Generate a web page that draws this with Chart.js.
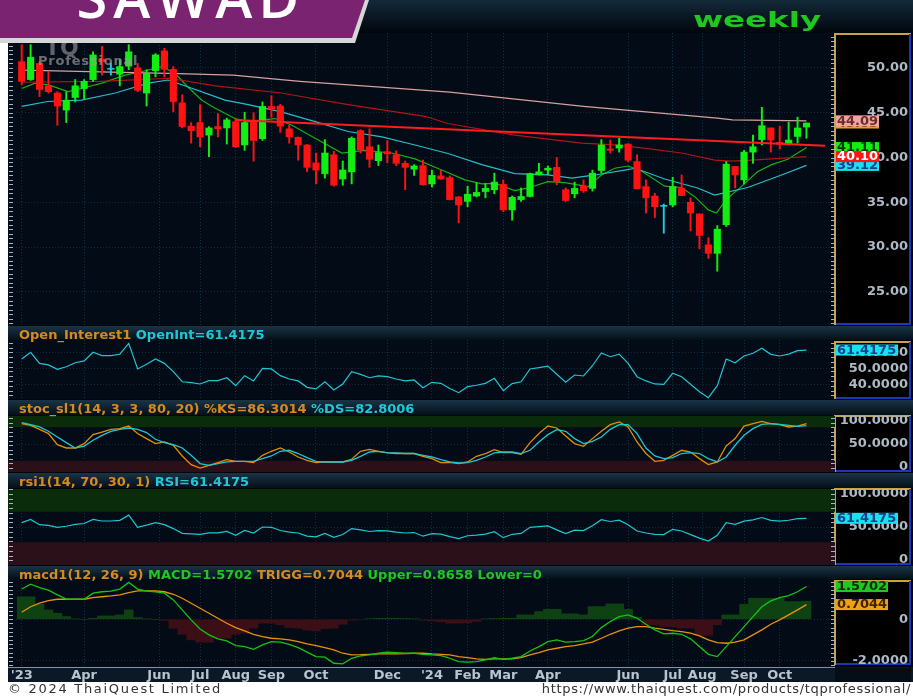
<!DOCTYPE html>
<html><head><meta charset="utf-8">
<script src="https://cdn.jsdelivr.net/npm/chart.js@4.4.1/dist/chart.umd.min.js"></script>
<style>
html,body{margin:0;padding:0;background:#fff;}
#root{position:relative;width:913px;height:698px;overflow:hidden;background:#fff;}
.layer{position:absolute;left:0;top:0;}
canvas{position:absolute;left:0;}
</style></head><body>
<div id="root">
<svg class="layer" width="913" height="698" style="z-index:0">
 <defs>
  <linearGradient id="gTop" x1="0" y1="0" x2="0" y2="1"><stop offset="0" stop-color="#14293a"/><stop offset="1" stop-color="#01060c"/></linearGradient>
  <linearGradient id="gHdr" x1="0" y1="0" x2="0" y2="1"><stop offset="0" stop-color="#1a3446"/><stop offset="1" stop-color="#040f18"/></linearGradient>
 </defs>
 <rect x="0" y="0" width="913" height="698" fill="#ffffff"/>
 <rect x="0" y="0" width="913" height="33" fill="url(#gTop)"/>
 <rect x="8" y="33" width="905" height="649" fill="#00050a"/>
 <rect x="8" y="33" width="827" height="292" fill="#020b16"/>
 <rect x="8" y="326" width="905" height="14" fill="url(#gHdr)"/>
 <rect x="8" y="340" width="827" height="59" fill="#020b16"/>
 <rect x="8" y="400" width="905" height="15" fill="url(#gHdr)"/>
 <rect x="8" y="415.5" width="827" height="56.5" fill="#020b16"/>
 <rect x="8" y="473" width="905" height="15" fill="url(#gHdr)"/>
 <rect x="8" y="488.5" width="827" height="76.5" fill="#020b16"/>
 <rect x="8" y="566" width="905" height="13" fill="url(#gHdr)"/>
 <rect x="8" y="579" width="827" height="88" fill="#020b16"/>
 <rect x="8" y="667" width="905" height="15" fill="#0b1826"/>
 <rect x="8" y="667" width="827" height="1" fill="#8092a4"/>
 <g fill="#00040a" stroke-width="2">
  <rect x="835" y="33" width="76" height="292"/>
  <rect x="835" y="341" width="76" height="58"/>
  <rect x="835" y="415" width="76" height="57"/>
  <rect x="835" y="488" width="76" height="77"/>
  <rect x="835" y="580" width="76" height="85"/>
  <rect x="835" y="668" width="76" height="14" fill="#050d16"/>
 </g>
 <g stroke="#c9a246" stroke-width="2">
  <path d="M835 325V34H911 M835 399V342H911 M835 472V416H911 M835 565V489H911 M835 665V581H911"/>
 </g>
 <g stroke="#1a38b8" stroke-width="2">
  <path d="M910 34V324H836 M910 342V398H836 M910 416V471H836 M910 489V564H836 M910 581V664H836"/>
 </g>
</svg>
<canvas id="cMain" width="913" height="292" style="top:33px;z-index:1"></canvas>
<canvas id="cOI" width="913" height="59" style="top:340px;z-index:1"></canvas>
<canvas id="cSto" width="913" height="56" style="top:416px;z-index:1"></canvas>
<canvas id="cRsi" width="913" height="76" style="top:489px;z-index:1"></canvas>
<canvas id="cMacd" width="913" height="104" style="top:578px;z-index:1"></canvas>
<svg class="layer" width="913" height="698" style="z-index:2" font-family="DejaVu Sans, sans-serif">
 <g opacity="0.7">
  <text x="45" y="55" font-size="22" font-weight="bold" fill="#8a8a8a">TQ</text>
  <text x="38" y="65" font-size="13" font-weight="bold" letter-spacing="0.8" fill="#9a9a9a">Professional</text>
 </g>
 <polygon points="0,0 369,0 355,43 0,43" fill="#d6d6d6"/>
 <polygon points="0,0 365,0 352,38 0,38" fill="#7a2371"/>
 <text x="191" y="18" text-anchor="middle" font-family="Open Sans" font-weight="600" font-size="56" letter-spacing="6" fill="#ffffff">SAWAD</text>
 <text transform="translate(757,27) scale(1.55,1)" text-anchor="middle" font-weight="bold" font-size="21" fill="#1ec81e">weekly</text>
 <g font-size="13" font-weight="bold" dominant-baseline="central">
  <text x="19" y="334"><tspan fill="#d88a1e">Open_Interest1 </tspan><tspan fill="#1ec8d6">OpenInt=61.4175</tspan></text>
  <text x="19" y="407.5"><tspan fill="#d88a1e">stoc_sl1(14, 3, 3, 80, 20) %KS=86.3014 </tspan><tspan fill="#1ec8d6">%DS=82.8006</tspan></text>
  <text x="19" y="481"><tspan fill="#d88a1e">rsi1(14, 70, 30, 1) </tspan><tspan fill="#1ec8d6">RSI=61.4175</tspan></text>
  <text x="19" y="573.5"><tspan fill="#d88a1e">macd1(12, 26, 9) </tspan><tspan fill="#1ec81e">MACD=1.5702 </tspan><tspan fill="#d88a1e">TRIGG=0.7044 </tspan><tspan fill="#1ec81e">Upper=0.8658 Lower=0</tspan></text>
 </g>
 <text x="8" y="688" dominant-baseline="central" font-size="13" letter-spacing="1.7" fill="#333">© 2024 ThaiQuest Limited</text>
 <text x="911" y="688" text-anchor="end" dominant-baseline="central" font-size="13" letter-spacing="0.65" fill="#333">https://www.thaiquest.com/products/tqprofessional/</text>
</svg>
</div>
<script>
// ================= DATA =================
const open  = [50.7,48.7,50.5,48.0,47.2,45.3,46.7,47.7,48.7,51.0, 49.9,49.3,50.2,50.0,47.2,49.7,51.9,49.85,46.1,43.5, 43.9,42.5,43.45,43.3,44.0,41.4,44.0,42.1,45.7,45.75, 43.2,42.25,41.4,39.4,38.2,40.3,37.6,38.4,43.0,41.2, 39.65,40.65,40.3,39.35,38.7,39.1,37.05,37.95,37.75,35.6, 35.1,35.7,36.2,36.4,37.0,34.15,35.3,35.65,38.05,38.6, 38.9,36.4,35.95,36.8,36.55,38.55,40.95,41.05,41.5,39.55, 36.75,35.7,34.6,34.7,36.55,35.0,33.7,30.25,29.3,32.5, 39.0,37.5,40.6,42.0,43.3,41.7,41.5,42.35,43.4];
const high  = [52.6,52.6,50.7,49.6,47.35,47.35,48.7,48.7,51.8,52.4, 50.55,50.9,52.6,50.5,49.8,51.6,52.2,50.15,47.0,43.9, 45.9,43.45,44.9,44.4,44.3,45.05,45.0,46.2,46.9,45.95, 43.6,42.3,41.45,40.5,42.0,40.7,39.6,42.3,43.1,43.2, 41.4,41.9,40.75,39.6,39.2,39.7,38.6,38.6,37.95,35.65, 36.8,37.2,37.1,38.25,37.5,35.7,36.6,38.25,39.35,39.05, 40.0,36.6,37.25,37.5,38.6,42.0,41.95,42.15,41.55,40.3, 37.5,36.0,34.8,37.8,38.05,35.5,33.7,31.05,32.4,39.55, 39.0,40.8,42.5,45.6,43.3,43.5,43.95,44.5,43.85];
const low   = [48.1,48.6,46.8,47.2,43.6,43.9,46.2,46.5,48.5,49.2, 49.2,48.0,49.8,47.35,45.75,49.0,49.0,45.1,43.3,41.6, 41.2,40.1,42.3,41.5,41.1,40.8,39.6,41.9,44.5,42.8, 41.6,39.7,38.4,37.05,37.7,36.8,36.9,37.05,40.5,38.9, 39.1,39.4,39.1,36.4,38.0,36.9,36.7,37.55,35.25,32.7, 34.5,35.6,35.5,35.95,33.95,33.0,35.1,35.6,38.05,38.05, 36.95,35.1,35.5,36.1,36.25,38.25,40.5,40.6,39.55,36.5, 33.8,33.3,31.55,34.5,35.75,31.8,29.8,28.75,27.3,32.3, 36.6,37.05,39.35,41.4,40.6,40.95,41.4,41.6,42.15];
const close = [48.5,51.2,47.6,47.35,45.75,46.4,48.0,48.5,51.45,50.7, 49.9,50.15,51.8,47.5,49.4,51.45,49.85,46.25,43.45,43.0, 42.3,43.3,43.2,44.2,41.2,43.9,41.9,45.7,45.4,43.5, 42.3,41.4,38.9,38.6,40.5,36.9,38.6,42.15,40.85,39.8, 40.55,40.4,39.35,38.9,39.05,36.95,38.0,37.6,35.3,34.7, 35.9,36.1,36.55,37.25,34.15,35.55,35.65,38.2,38.4,38.8, 37.3,35.2,36.55,36.3,38.25,41.4,40.8,41.4,39.7,36.5, 35.5,34.5,34.6,36.75,35.75,33.8,31.3,29.3,32.0,39.25, 38.05,40.6,41.2,43.55,41.95,41.5,41.95,43.3,43.85];

// moving averages: [week index, value]
const maPink  = [[0,49.75],[16.4,49.4],[23.7,49.2],[31.2,48.5],[48,47.3],[63,45.7],[78,44.4],[79.7,44.2],[88,44.09]];
const maRed   = [[0,48.4],[8.8,48.5],[16.6,48.85],[21.7,48.0],[29.1,47.2],[36.6,45.9],[45.2,44.6],[47.8,43.8],[55.3,42.5],[62.8,41.6],[66.5,41.4],[70.2,41.0],[74,40.5],[77.7,39.7],[79.6,39.6],[83.3,39.8],[88,40.10]];
const maCyan  = [[0,45.7],[2.9,46.25],[6.7,46.4],[10.5,47.2],[14.2,48.3],[16.4,48.65],[18.6,47.9],[21.7,46.8],[22.8,46.4],[25.4,45.9],[29.1,45.1],[32.9,44.0],[36.6,42.9],[40.4,42.3],[44.1,41.4],[47.8,40.45],[51.6,39.2],[55.3,38.2],[59,38.05],[61.7,37.7],[64.3,38.05],[67.6,38.6],[68.8,38.8],[72.1,37.6],[75.8,36.6],[77.7,35.8],[81.4,36.65],[85.2,38.05],[88,39.12]];
const maGreen = [[0,47.7],[1.5,48.3],[3,48.1],[5.2,47.35],[6.7,47.7],[9,48.3],[11.6,49.2],[13.5,49.6],[15.7,50.15],[17.2,49.4],[18.6,47.9],[20.2,46.4],[21.7,45.5],[23.9,44.35],[25.4,44.0],[28.4,44.35],[30.3,43.6],[32.9,42.15],[35.9,40.5],[38.5,40.8],[41.5,40.5],[44.1,39.85],[47.1,38.6],[49.7,37.5],[51.6,37.05],[53.1,37.1],[55.3,36.3],[56.8,36.6],[59,37.3],[60.9,37.2],[63.5,36.75],[65,38.05],[66.5,38.8],[68,39.05],[69.5,38.5],[72.1,36.8],[74,36.65],[75.5,35.6],[77,34.15],[77.9,33.8],[79,35.3],[80.7,36.75],[82.5,38.4],[84.1,39.2],[85.9,39.8],[88,41.11]];
const trendLine = [[23.9,44.2],[90.1,41.3]];

const rsi = [55.8,60,53.1,52.1,49.4,51.0,53.5,54.6,60,57.9, 57.9,58.8,65.6,49.6,52.5,55.8,53.1,47.9,41.6,41.0, 40.2,42.3,42.3,44.1,39.1,45.4,42.1,50.0,49.6,45.4, 43.3,42.1,38.1,37.1,41.6,36.4,40.2,47.9,46.2,44.1, 45.2,44.8,43.3,42.1,42.7,37.9,41.25,40.6,37.4,34.75, 38.5,39.4,40.6,43.75,36.0,40.4,41.6,49.6,50.4,51.4, 46.25,41.25,45.8,45.2,51.6,59.6,57.25,58.9,53.1,44.75, 42.1,40.2,40.0,46.9,44.75,40.0,35.4,31.6,39.1,55.8, 53.5,57.7,59.4,62.5,58.75,57.7,58.9,61.0,61.4175];
const stochK = [86.4,83.4,76.2,68.6,48.9,42.9,42.9,50.7,66.7,71.4, 76.2,77.4,82.1,68.6,59.6,50.7,53.6,47.7,28.6,13.2, 7.1,12.0,16.7,22.1,19.1,19.1,16.7,29.8,37.0,42.9, 35.7,26.8,20.9,16.7,17.9,17.9,17.9,22.7,37.0,40.5, 37.0,34.0,33.0,33.0,33.0,28.0,23.9,16.7,17.0,15.0, 17.9,28.0,32.8,40.0,34.6,34.6,31.6,52.5,68.6,82.1, 78.6,64.3,50.7,45.9,59.6,72.7,84.6,89.3,80.4,53.6, 33.0,19.1,20.9,29.8,38.8,35.7,23.9,13.2,17.9,46.4, 59.6,82.1,86.4,90.5,86.4,84.6,80.4,82.1,86.3014];
const stochD = [88.2,84.5,80.4,72.7,62.5,52.5,42.9,46.4,56.6,65.5, 72.7,76.2,78.6,76.2,70.4,58.4,52.5,48.9,42.9,29.8, 15.0,12.0,15.0,17.9,19.1,19.1,19.1,23.9,28.6,37.0, 38.8,33.0,25.6,19.1,17.9,17.9,17.9,20.9,28.0,35.7, 37.0,34.6,34.0,33.0,33.0,29.8,26.8,22.1,17.9,16.1, 16.7,20.9,26.8,34.0,35.7,35.7,33.0,38.8,53.6,66.7, 75.6,72.7,59.6,50.7,54.8,62.5,76.2,84.6,84.6,68.6, 42.9,28.6,23.9,25.6,33.0,34.6,33.0,23.9,17.9,26.8, 47.7,65.5,77.4,85.0,86.4,85.0,83.4,81.6,82.8006];
const macd = [1.45,1.68,1.52,1.40,1.17,0.97,0.96,0.96,1.25,1.32, 1.35,1.45,1.77,1.45,1.35,1.32,1.25,0.93,0.45,-0.03, -0.47,-0.75,-0.94,-1.04,-1.26,-1.31,-1.44,-1.23,-1.07,-1.10, -1.20,-1.36,-1.58,-1.79,-1.82,-2.11,-2.14,-1.87,-1.76,-1.71, -1.63,-1.58,-1.60,-1.63,-1.63,-1.68,-1.71,-1.74,-1.87,-2.03, -2.06,-2.03,-1.95,-1.84,-1.92,-1.87,-1.79,-1.52,-1.31,-1.07, -0.99,-1.10,-1.07,-1.02,-0.83,-0.40,-0.11,0.13,0.21,0.05, -0.24,-0.51,-0.70,-0.67,-0.72,-0.94,-1.31,-1.68,-1.79,-1.31, -0.83,-0.35,0.13,0.60,0.88,1.04,1.13,1.32,1.5702];
const trigg = [0.34,0.60,0.77,0.89,0.96,0.96,0.96,0.96,1.04,1.08, 1.12,1.17,1.28,1.36,1.36,1.36,1.32,1.20,1.01,0.77, 0.53,0.29,0.05,-0.19,-0.40,-0.56,-0.72,-0.83,-0.91,-0.94, -0.99,-1.07,-1.18,-1.26,-1.36,-1.47,-1.63,-1.71,-1.70,-1.68, -1.66,-1.66,-1.66,-1.65,-1.63,-1.63,-1.66,-1.68,-1.71,-1.79, -1.84,-1.90,-1.92,-1.90,-1.90,-1.90,-1.84,-1.71,-1.60,-1.47, -1.39,-1.31,-1.26,-1.18,-1.10,-0.91,-0.72,-0.56,-0.43,-0.35, -0.35,-0.43,-0.48,-0.54,-0.59,-0.67,-0.80,-0.99,-1.12,-1.15, -1.10,-0.99,-0.75,-0.51,-0.24,-0.03,0.21,0.45,0.7044];
const hist = [1.08,1.08,0.72,0.45,0.29,0.13,0.02,0.0,0.05,0.16, 0.16,0.21,0.45,0.08,0.02,0.0,-0.05,-0.43,-0.72,-0.99, -1.10,-1.10,-0.91,-0.91,-0.72,-0.67,-0.43,-0.19,-0.19,-0.27, -0.40,-0.43,-0.52,-0.56,-0.45,-0.43,-0.24,-0.05,-0.03,0.03, 0.05,0.05,0.05,0.04,0.02,-0.05,-0.08,-0.12,-0.19,-0.19, -0.17,-0.10,0.02,0.04,0.05,0.05,0.21,0.21,0.37,0.48, 0.48,0.26,0.26,0.21,0.61,0.61,0.74,0.74,0.48,0.10, -0.27,-0.27,-0.35,-0.35,-0.43,-0.43,-0.77,-0.77,-0.27,0.21, 0.21,0.72,1.01,1.01,1.01,1.01,0.85,0.85,0.87];

const monthIdx = [0,7,15.4,20,24,28,33,41,46,50,54,59,68,73,76.3,81,85];
const monthLbl = ["'23","Apr","Jun","Jul","Aug","Sep","Oct","Dec","'24","Feb","Mar","Apr","Jun","Jul","Aug","Sep","Oct"];
const priceTicks = [25,30,35,40,45,50];
const oiTicks = [40,50,60];
const oscTicks = [0,50,100];
const macdTicks = [-2,0];
const stochBands = [[80,100,'#0a2c0b'],[0,20,'#2b1019']];
const rsiBands = [[70,100,'#0a2c0b'],[0,30,'#2b1019']];

// ================= STYLE / HELPERS =================
const FONT = 'DejaVu Sans';
Chart.defaults.font.family = FONT;
const UP = '#12ee12', DOWN = '#ff1212', DOJI = '#22c8d8';
const X_MIN = -0.64, X_MAX = 91.2;
const idx = close.map((_, i) => i);
const candleColor = idx.map(i => close[i] > open[i] ? UP : (close[i] < open[i] ? DOWN : DOJI));
const pts = arr => arr.map(p => ({x: p[0], y: p[1]}));
const series = arr => arr.map((v, i) => ({x: i, y: v}));

function xAxis(show) {
  return {
    type: 'linear', min: X_MIN, max: X_MAX, offset: false,
    afterBuildTicks: s => { s.ticks = monthIdx.map(v => ({value: v})); },
    afterFit: s => { s.height = show ? 15 : 0; },
    grid: {display: true, color: '#12314a', lineWidth: 1, drawTicks: false, offset: false},
    border: {display: false, dash: [1, 2]},
    ticks: {display: show, autoSkip: false, maxRotation: 0, minRotation: 0, padding: 1, color: '#b8c4cf',
      font: {family: FONT, weight: 'bold', size: 13},
      callback: v => { const k = monthIdx.indexOf(v); return k < 0 ? '' : monthLbl[k]; }}
  };
}
function yAxis(min, max, ticks) {
  return {
    position: 'right', min, max, beginAtZero: false,
    afterBuildTicks: s => { s.ticks = ticks.map(v => ({value: v})); },
    afterFit: s => { s.width = 78; },
    ticks: {display: false},
    grid: {color: '#0f2a3e', lineWidth: 1, drawTicks: false},
    border: {display: false, dash: [1, 2]}
  };
}
function bandPlugin(bands) {
  return {id: 'bands', beforeDatasetsDraw(chart) {
    const ys = chart.scales.y, ca = chart.chartArea, ctx = chart.ctx;
    ctx.save();
    bands.forEach(b => {
      const y1 = ys.getPixelForValue(b[1]), y0 = ys.getPixelForValue(b[0]);
      ctx.fillStyle = b[2]; ctx.fillRect(ca.left - 8, y1, ca.right - ca.left + 8, y0 - y1);
    });
    ctx.restore();
  }};
}
function axisPlugin(ticks, fmt, minorStep, boxes) {
  return {id: 'rightAxis', afterDraw(chart) {
    const ys = chart.scales.y, ca = chart.chartArea, ctx = chart.ctx;
    ctx.save();
    ctx.strokeStyle = '#a9b4c0'; ctx.lineWidth = 1; ctx.beginPath();
    for (let v = Math.ceil(ys.min / minorStep) * minorStep; v <= ys.max; v += minorStep) {
      const y = Math.round(ys.getPixelForValue(v)) + 0.5;
      ctx.moveTo(ca.right - 4, y); ctx.lineTo(ca.right, y);
      ctx.moveTo(9, y); ctx.lineTo(13, y);
    }
    ctx.stroke();
    ctx.font = 'bold 13px "' + FONT + '"'; ctx.textBaseline = 'middle';
    ctx.textAlign = 'right'; ctx.fillStyle = '#aeb9c6';
    ticks.forEach(v => {
      let y = ys.getPixelForValue(v);
      y = Math.max(ca.top + 5, Math.min(ca.bottom - 5, y));
      ctx.fillText(fmt(v), 908, y);
    });
    ctx.textAlign = 'left';
    boxes.forEach(b => {
      const y = ys.getPixelForValue(b.v);
      ctx.fillStyle = b.bg; ctx.fillRect(ca.right + 1, y - 5.5, b.w, 11);
      ctx.fillStyle = b.fg; ctx.fillText(b.t, ca.right + 2, y + 0.5);
    });
    ctx.restore();
  }};
}
function baseOptions(xShow, yCfg) {
  return {
    responsive: false, animation: false, events: [], devicePixelRatio: 1,
    layout: {padding: {left: 16, right: 0, top: 0, bottom: 0}, autoPadding: false},
    plugins: {legend: {display: false}, tooltip: {enabled: false}},
    scales: {x: xAxis(xShow), y: yCfg}
  };
}
const lineDs = (data, color, width, order) => ({type: 'line', data, borderColor: color, borderWidth: width,
  pointRadius: 0, fill: false, tension: 0, order});
const last = a => a[a.length - 1];
const lastPt = a => a[a.length - 1][1];

// ================= MAIN PRICE PANEL =================
new Chart(document.getElementById('cMain'), {
  type: 'bar',
  data: {datasets: [
    lineDs(pts(trendLine), '#ff1d1d', 2, 0),
    {type: 'bar', data: idx.map(i => ({x: i, y: [open[i], close[i]]})), backgroundColor: candleColor,
      grouped: false, maxBarThickness: 6.5, barPercentage: 1, categoryPercentage: 1, order: 1},
    {type: 'line', showLine: false, data: idx.filter(i => open[i] === close[i]).map(i => ({x: i, y: close[i]})),
      pointStyle: 'line', pointRadius: 3.5, borderColor: DOJI, borderWidth: 1.5, order: 1},
    {type: 'bar', data: idx.map(i => ({x: i, y: [low[i], high[i]]})), backgroundColor: candleColor,
      grouped: false, maxBarThickness: 1.3, barPercentage: 1, categoryPercentage: 1, order: 2},
    lineDs(pts(maPink), '#d7a0a0', 1.2, 3),
    lineDs(pts(maRed), '#b31414', 1.2, 3),
    lineDs(pts(maCyan), '#22bfcc', 1.2, 3),
    lineDs(pts(maGreen), '#16b016', 1.2, 3)
  ]},
  options: baseOptions(false, yAxis(21.3, 53.9, priceTicks)),
  plugins: [axisPlugin(priceTicks, v => v.toFixed(2), 0.5, [
    {v: last(close), t: last(close).toFixed(2), bg: '#f0a020', fg: '#3a2200', w: 43},
    {v: lastPt(maPink), t: lastPt(maPink).toFixed(2), bg: '#f4a3a3', fg: '#6a2c2c', w: 43},
    {v: lastPt(maCyan), t: lastPt(maCyan).toFixed(2), bg: '#14e4f0', fg: '#1a3c8c', w: 43},
    {v: lastPt(maGreen), t: lastPt(maGreen).toFixed(2), bg: '#14ee14', fg: '#083808', w: 43},
    {v: lastPt(maRed), t: lastPt(maRed).toFixed(2), bg: '#ff1414', fg: '#ffffff', w: 43}
  ])]
});

// ================= OPEN INTEREST PANEL =================
new Chart(document.getElementById('cOI'), {
  type: 'line',
  data: {datasets: [lineDs(series(rsi), '#1ec6d2', 1.2, 0)]},
  options: baseOptions(false, yAxis(30.8, 67.7, oiTicks)),
  plugins: [axisPlugin(oiTicks, v => v.toFixed(4), 3, [
    {v: last(rsi), t: last(rsi).toFixed(4), bg: '#14e4f0', fg: '#1a3c8c', w: 62}
  ])]
});

// ================= STOCHASTIC PANEL =================
new Chart(document.getElementById('cSto'), {
  type: 'line',
  data: {datasets: [
    lineDs(series(stochK), '#e58c06', 1.3, 1),
    lineDs(series(stochD), '#1ec6d2', 1.3, 0)
  ]},
  options: baseOptions(false, yAxis(0, 100, oscTicks)),
  plugins: [bandPlugin(stochBands), axisPlugin(oscTicks, v => v === 0 ? '0' : v.toFixed(4), 8, [])]
});

// ================= RSI PANEL =================
new Chart(document.getElementById('cRsi'), {
  type: 'line',
  data: {datasets: [lineDs(series(rsi), '#1ec6d2', 1.2, 0)]},
  options: baseOptions(false, yAxis(0, 100, oscTicks)),
  plugins: [bandPlugin(rsiBands), axisPlugin(oscTicks, v => v === 0 ? '0' : v.toFixed(4), 6.25, [
    {v: last(rsi), t: last(rsi).toFixed(4), bg: '#14e4f0', fg: '#1a3c8c', w: 62}
  ])]
});

// ================= MACD PANEL =================
new Chart(document.getElementById('cMacd'), {
  type: 'bar',
  data: {datasets: [
    lineDs(series(macd), '#14c414', 1.3, 0),
    lineDs(series(trigg), '#e8920c', 1.3, 1),
    {type: 'bar', data: series(hist), backgroundColor: hist.map(v => v >= 0 ? '#0e4212' : '#3c0f17'),
      grouped: false, barPercentage: 1, categoryPercentage: 1, order: 2}
  ]},
  options: baseOptions(true, yAxis(-2.29, 1.98, macdTicks)),
  plugins: [axisPlugin(macdTicks, v => v === 0 ? '0' : v.toFixed(4), 0.2, [
    {v: last(macd), t: last(macd).toFixed(4), bg: '#1ec81e', fg: '#0a2a0a', w: 52},
    {v: last(trigg), t: last(trigg).toFixed(4), bg: '#f0a014', fg: '#3a2200', w: 52}
  ])]
});
</script>
</body></html>
